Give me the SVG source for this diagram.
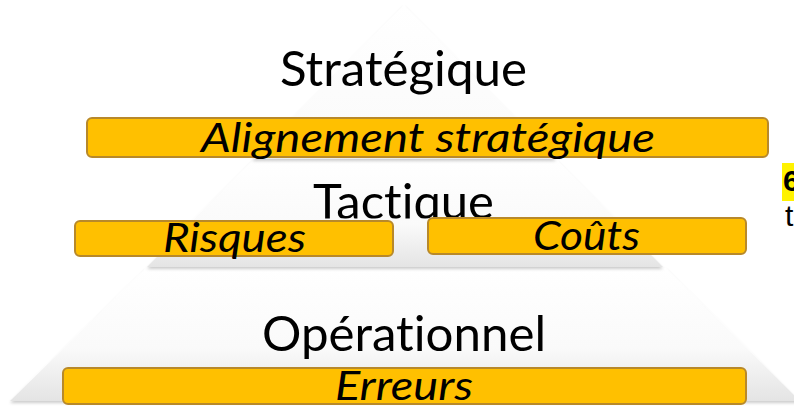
<svg xmlns="http://www.w3.org/2000/svg" width="794" height="410" viewBox="0 0 794 410">
  <defs>
    <linearGradient id="gTop" x1="0" y1="0" x2="0" y2="1">
      <stop offset="0" stop-color="#ffffff"/>
      <stop offset="0.75" stop-color="#fbfbfb"/>
      <stop offset="1" stop-color="#ececec"/>
    </linearGradient>
    <linearGradient id="gLayer" x1="0" y1="0" x2="0" y2="1">
      <stop offset="0" stop-color="#ffffff"/>
      <stop offset="0.6" stop-color="#fafafa"/>
      <stop offset="1" stop-color="#e4e4e4"/>
    </linearGradient>
    <filter id="shadow" x="-10%" y="-10%" width="120%" height="125%">
      <feDropShadow dx="0" dy="2" stdDeviation="1.8" flood-color="#000" flood-opacity="0.2"/>
    </filter>
    <clipPath id="clipTactique">
      <rect x="0" y="0" width="794" height="218.5"/>
    </clipPath>
  </defs>
  <style>
    text { font-variant-ligatures: none; font-feature-settings: "liga" 0, "dlig" 0; }
    .layer { stroke: none; filter: url(#shadow); }
    .bar { fill: #FFC000; stroke: #B8892A; stroke-width: 2; }
    .level { font-family: Lato, "Open Sans", "Liberation Sans", sans-serif; font-size: 48px; fill: #000; }
    .item { font-family: Lato, "Open Sans", "Liberation Sans", sans-serif; font-style: italic; font-size: 40px; fill: #000; }
    .side { font-family: "Liberation Sans", Arial, sans-serif; font-size: 30px; fill: #000; }
  </style>

  <rect width="794" height="410" fill="#ffffff"/>

  <g id="layer-operationnel">
    <polygon class="layer" points="146,268 666,268 800,401 10,401" fill="url(#gLayer)"/>
  </g>
  <g id="layer-tactique">
    <polygon class="layer" points="253,160 557,160 663,267 147,267" fill="url(#gLayer)"/>
  </g>
  <g id="layer-strategique">
    <polygon class="layer" points="404,5 556,159 252,159" fill="url(#gTop)"/>
  </g>

  <g id="label-strategique">
    <text class="level" x="280" y="86" textLength="247" lengthAdjust="spacingAndGlyphs">Stratégique</text>
  </g>
  <g id="label-tactique" clip-path="url(#clipTactique)">
    <text class="level" x="313" y="219" textLength="181" lengthAdjust="spacingAndGlyphs">Tactique</text>
  </g>
  <g id="label-operationnel">
    <text class="level" x="262" y="351" textLength="284" lengthAdjust="spacingAndGlyphs">Opérationnel</text>
  </g>

  <g id="bar-alignement">
    <rect class="bar" x="87" y="118" width="681" height="39" rx="5"/>
    <text class="item" x="201" y="152" textLength="454" lengthAdjust="spacingAndGlyphs">Alignement stratégique</text>
  </g>
  <g id="bar-risques">
    <rect class="bar" x="75" y="221" width="318" height="35" rx="5"/>
    <text class="item" x="163" y="252" textLength="143" lengthAdjust="spacingAndGlyphs">Risques</text>
  </g>
  <g id="bar-couts">
    <rect class="bar" x="428" y="218" width="318" height="36" rx="5"/>
    <text class="item" x="533" y="250" textLength="107" lengthAdjust="spacingAndGlyphs">Coûts</text>
  </g>
  <g id="bar-erreurs">
    <rect class="bar" x="63" y="368" width="683" height="36" rx="5"/>
    <text class="item" x="335" y="400" textLength="138" lengthAdjust="spacingAndGlyphs">Erreurs</text>
  </g>

  <g id="side-text">
    <rect x="782" y="163" width="14" height="38" fill="#FFF200"/>
    <text class="side" x="783" y="191" font-weight="bold">6</text>
    <text class="side" x="785" y="226">t</text>
  </g>
</svg>
